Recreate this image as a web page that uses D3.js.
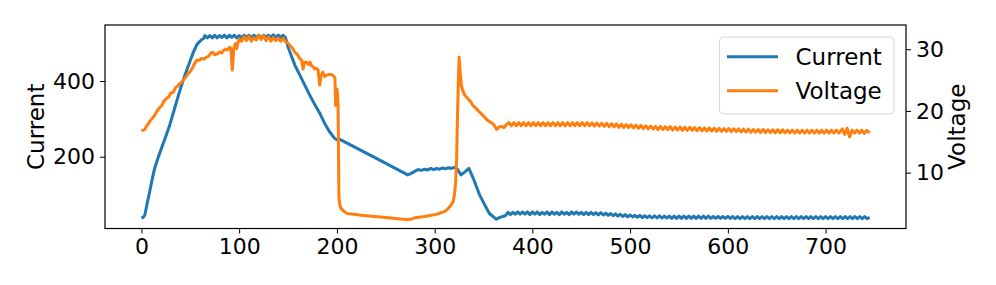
<!DOCTYPE html>
<html>
<head>
<meta charset="utf-8">
<script src="https://cdn.jsdelivr.net/npm/d3@7"></script>
<style>
  html, body { margin: 0; padding: 0; background: #fff; }
  #chart { width: 996px; height: 285px; }
</style>
</head>
<body>
<div id="chart"></div>
<script>
// Current trace, [sample, value]
const currentRamp = [
  [0,38],[2,40],[3.5,46],[6,78],[8.5,108],[11,140],[13.5,169],[17,197],[20.5,222],[25,254],
  [29,284],[34,328],[39,372],[44,412],[49.5,451],[53,475],[56.5,495],[59,503],[61.5,509],[64,513]
];
const currentPlateau = [
  [65,520],[67.5,514],[70,520],[72.5,514],[75,521],[77.5,514],[80,520],[82.5,515],[85,521],[87.5,514],
  [90,521],[92.5,515],[95,521],[97.5,514],[100,520],[102.5,514],[105,521],[107.5,515],[110,521],[112.5,514],
  [115,521],[117.5,515],[120,521],[122.5,514],[125,521],[127.5,515],[130,521],[132.5,515],[135,522],[137.5,515],
  [140,521],[142.5,515],[145,521],[147.5,514]
];
const currentMiddle = [
  [150,490],[152,476],[157,442],[162,416],[167,390],[172,364],[177.5,337],[182.5,315],[187.5,288],[192.5,266],
  [197.5,249],[200,245],[202,247],[237,200],[272.5,152],[276,156],[280,162],[283,166],[286,164],[290,167],
  [293,165],[296,169],[299,166],[302,169],[305,167],[308,170],[311,168],[314,171],[317,169],[320,172],
  [323,168],[327,152],[331,160],[335,169],[340,140],[346,99],[351,74],[356,50],[363,35],[368,41],[372.5,44]
];
const currentTail = [
  [375,53],[377.5,47],[380,53],[382.5,48],[385,54],[387.5,48],[390,54],[392.5,48],[395,54],[397.5,47],
  [400,54],[402.5,48],[405,54],[407.5,47],[410,53],[412.5,48],[415,54],[417.5,47],[420,54],[422.5,48],
  [425,53],[427.5,47],[430,54],[432.5,48],[435,53],[437.5,47],[440,54],[442.5,48],[445,54],[447.5,48],
  [450,53],[452.5,47],[455,53],[457.5,47],[460,53],[462.5,47],[465,52],[467.5,46],[470,52],[472.5,46],
  [475,51],[477.5,45],[480,50],[482.5,44],[485,49],[487.5,43],[490,48],[492.5,42],[495,47],[497.5,41],
  [500,46],[502.5,41],[505,45],[507.5,40],[510,45],[512.5,39],[515,44],[517.5,39],[520,44],[522.5,38],
  [525,44],[527.5,38],[530,44],[532.5,38],[535,43],[537.5,38],[540,43],[542.5,37],[545,43],[547.5,37],
  [550,43],[552.5,37],[555,43],[557.5,37],[560,43],[562.5,37],[565,43],[567.5,37],[570,43],[572.5,37],
  [575,43],[577.5,37],[580,43],[582.5,37],[585,42],[587.5,37],[590,42],[592.5,37],[595,42],[597.5,37],
  [600,42],[602.5,37],[605,42],[607.5,36],[610,42],[612.5,36],[615,42],[617.5,36],[620,42],[622.5,36],
  [625,42],[627.5,36],[630,42],[632.5,36],[635,42],[637.5,36],[640,42],[642.5,36],[645,42],[647.5,36],
  [650,42],[652.5,36],[655,42],[657.5,36],[660,42],[662.5,36],[665,42],[667.5,36],[670,42],[672.5,36],
  [675,42],[677.5,36],[680,42],[682.5,36],[685,42],[687.5,36],[690,42],[692.5,36],[695,42],[697.5,36],
  [700,42],[702.5,36],[705,42],[707.5,36],[710,42],[712.5,36],[715,42],[717.5,36],[720,42],[722.5,36],
  [725,42],[727.5,36],[730,42],[732.5,36],[735,42],[737.5,36],[740,42],[742.5,36],[745,40]
];

// Voltage trace, [sample, value]
const voltageRamp = [
  [0,16.8],[2,16.9],[3.5,17.0],[5,17.5],[7,17.9],[9,18.4],[12,19.0],[14,19.4],[16,20.0],[19,20.6],
  [21,20.9],[23,21.6],[25.5,22.0],[28,22.3],[30,22.9],[32.5,23.0],[35,23.8],[37,24.0],[39,24.4],[42,24.8],
  [44,25.2],[46,25.6],[47.5,26.0],[49.5,26.3],[52,26.9],[54,27.6],[56.5,28.2],[59,28.2],[61.5,28.5],[64,28.4],
  [66.5,28.7],[69,28.9],[71,29.4],[73,29.5],[75,29.1],[78,29.3],[80,29.6],[82,29.4],[84,29.8],[86,30.0],
  [88,29.9],[90,30.3],[91.5,30.2],[93,26.6],[94.5,30.0],[96,30.9],[97.5,30.1],[99,31.2],[100.5,31.7]
];
const voltagePlateau = [
  [102.5,31.3],[105,32.0],[107.5,31.4],[110,32.1],[112.5,31.3],[115,31.9],[117.5,31.5],[120,32.3],[122.5,31.6],[125,32.2],
  [127.5,31.4],[130,32.0],[132.5,31.3],[135,31.9],[137.5,31.4],[140,31.8],[142.5,31.3],[145,31.8],[147.5,31.2],[150,31.0]
];
const voltageMiddle = [
  [152,30.6],[154.5,30.2],[157,29.5],[159.5,29.2],[162,28.5],[164,28.2],[165.4,26.8],[167,27.9],[169,27.9],[171,27.5],
  [172.5,27.9],[174,27.3],[175.5,27.2],[177.3,26.8],[179,26.9],[180.7,26.7],[182.4,24.2],[184,25.8],[185.5,26.3],[187.5,25.6],
  [189.5,25.8],[192,25.9],[194.5,25.9],[197,25.6],[198,25.3],[198.7,20.9],[199.5,23.6],[200.3,23.5],[201.2,20.9],[202.1,5.8],
  [203.5,4.4],[206,3.9],[210,3.4],[215,3.3],[225,3.1],[235,2.95],[245,2.8],[255,2.65],[265,2.5],[272.5,2.42],
  [277,2.5],[280,2.7],[285,2.8],[290,2.9],[295,3.06],[300,3.2],[303,3.3],[306,3.5],[309,3.6],[312,3.9],
  [315,4.4],[317,4.8],[319,5.3],[320.5,6.8],[321.5,8.5],[322.5,12.3],[323.5,20],[324.3,25],[325,28.7],[326,26.5],
  [327.5,24],[329,23.2],[331,22.5],[333,22.2],[335,21.8],[337,21.5],[339,20.9],[342,20.5],[346,19.8],[350,19.2],
  [354,18.5],[358,18.1],[361,17.7],[363.5,17.0],[366,17.4],[368.5,17.5],[371,17.3],[373.5,17.8]
];
const voltageTail = [
  [376,18.1],[378.5,17.6],[381,18.1],[383.5,17.6],[386,18.1],[388.5,17.6],[391,18.1],[393.5,17.6],[396,18.1],[398.5,17.6],
  [401,18.1],[403.5,17.6],[406,18.1],[408.5,17.6],[411,18.1],[413.5,17.6],[416,18.1],[418.5,17.6],[421,18.1],[423.5,17.6],
  [426,18.1],[428.5,17.6],[431,18.1],[433.5,17.6],[436,18.1],[438.5,17.6],[441,18.1],[443.5,17.6],[446,18.1],[448.5,17.6],
  [451,18.1],[453.5,17.6],[456,18.1],[458.5,17.6],[461,18.05],[463.5,17.55],[466,18.05],[468.5,17.55],[471,18.0],[473.5,17.5],
  [476,18.0],[478.5,17.45],[481,17.95],[483.5,17.4],[486,17.9],[488.5,17.35],[491,17.85],[493.5,17.3],[496,17.8],[498.5,17.3],
  [501,17.75],[503.5,17.25],[506,17.7],[508.5,17.2],[511,17.65],[513.5,17.15],[516,17.6],[518.5,17.1],[521,17.55],[523.5,17.05],
  [526,17.5],[528.5,17.0],[531,17.5],[533.5,17.0],[536,17.45],[538.5,16.95],[541,17.45],[543.5,16.9],[546,17.4],[548.5,16.9],
  [551,17.4],[553.5,16.85],[556,17.35],[558.5,16.85],[561,17.35],[563.5,16.85],[566,17.3],[568.5,16.8],[571,17.3],[573.5,16.8],
  [576,17.25],[578.5,16.75],[581,17.25],[583.5,16.75],[586,17.2],[588.5,16.7],[591,17.2],[593.5,16.7],[596,17.15],[598.5,16.7],
  [601,17.15],[603.5,16.65],[606,17.1],[608.5,16.65],[611,17.1],[613.5,16.6],[616,17.05],[618.5,16.6],[621,17.05],[623.5,16.55],
  [626,17.0],[628.5,16.55],[631,17.0],[633.5,16.5],[636,17.0],[638.5,16.5],[641,16.95],[643.5,16.5],[646,16.95],[648.5,16.45],
  [651,16.95],[653.5,16.45],[656,16.95],[658.5,16.45],[661,16.9],[663.5,16.45],[666,16.9],[668.5,16.4],[671,16.9],[673.5,16.4],
  [676,16.9],[678.5,16.4],[681,16.9],[683.5,16.4],[686,16.9],[688.5,16.4],[691,16.9],[693.5,16.4],[696,16.9],[698.5,16.4],
  [701,16.9],[703.5,16.4],[706,16.9],[708.5,16.4],[711,16.9],[713.5,16.4],[717,17.1],[719.5,16.2],[722,17.2],[724.5,15.8],
  [727,16.9],[729.5,16.4],[732,16.9],[734.5,16.4],[737,16.9],[739.5,16.35],[742,16.85],[745,16.45]
];

const current = [...currentRamp, ...currentPlateau, ...currentMiddle, ...currentTail];
const voltage = [...voltageRamp, ...voltagePlateau, ...voltageMiddle, ...voltageTail];

const xTicks = [0, 100, 200, 300, 400, 500, 600, 700];
const currentTicks = [200, 400];
const voltageTicks = [10, 20, 30];
const seriesNames = ['Current', 'Voltage'];
const seriesColors = ['#1f77b4', '#ff7f0e'];

function renderChart(container) {
    const width = 996;
    const height = 285;
    const margin = { top: 25, right: 90, bottom: 56.5, left: 105 };
    const innerW = width - margin.left - margin.right;
    const innerH = height - margin.top - margin.bottom;
    const font = 'DejaVu Sans, sans-serif';

    // matplotlib style 5% padding around the data range
    const x = d3.scaleLinear().domain([-37.25, 782.25]).range([0, innerW]);
    const yLeft = d3.scaleLinear().domain([10.3, 548]).range([innerH, 0]);
    const yRight = d3.scaleLinear().domain([0.95, 33.93]).range([innerH, 0]);

    const svg = d3.create('svg')
        .attr('width', width)
        .attr('height', height)
        .attr('viewBox', [0, 0, width, height]);

    svg.append('rect').attr('width', width).attr('height', height).attr('fill', '#fff');

    const g = svg.append('g')
        .attr('transform', `translate(${margin.left},${margin.top})`);

    // Lines
    const lineLeft = d3.line().x(d => x(d[0])).y(d => yLeft(d[1]));
    const lineRight = d3.line().x(d => x(d[0])).y(d => yRight(d[1]));

    g.append('path')
        .datum(current)
        .attr('fill', 'none')
        .attr('stroke', seriesColors[0])
        .attr('stroke-width', 3)
        .attr('stroke-linejoin', 'round')
        .attr('d', lineLeft);

    g.append('path')
        .datum(voltage)
        .attr('fill', 'none')
        .attr('stroke', seriesColors[1])
        .attr('stroke-width', 3)
        .attr('stroke-linejoin', 'round')
        .attr('d', lineRight);

    // Axes
    const styleAxis = sel => {
        sel.select('.domain').remove();
        sel.selectAll('.tick line').attr('stroke', '#000').attr('stroke-width', 1);
        sel.selectAll('.tick text')
            .attr('fill', '#000')
            .style('font-family', font)
            .style('font-size', '22px');
    };

    g.append('g')
        .attr('transform', `translate(0,${innerH})`)
        .call(d3.axisBottom(x).tickValues(xTicks).tickSize(5).tickPadding(5).tickFormat(d3.format('d')))
        .call(styleAxis);

    g.append('g')
        .call(d3.axisLeft(yLeft).tickValues(currentTicks).tickSize(5).tickPadding(5).tickFormat(d3.format('d')))
        .call(styleAxis);

    g.append('g')
        .attr('transform', `translate(${innerW},0)`)
        .call(d3.axisRight(yRight).tickValues(voltageTicks).tickSize(5).tickPadding(5).tickFormat(d3.format('d')))
        .call(styleAxis);

    // Frame
    g.append('rect')
        .attr('width', innerW)
        .attr('height', innerH)
        .attr('fill', 'none')
        .attr('stroke', '#000')
        .attr('stroke-width', 1.2);

    // Axis labels
    svg.append('text')
        .attr('transform', `translate(36,${margin.top + innerH / 2}) rotate(-90)`)
        .attr('text-anchor', 'middle')
        .attr('dominant-baseline', 'central')
        .style('font-family', font)
        .style('font-size', '23px')
        .text('Current');

    svg.append('text')
        .attr('transform', `translate(957,${margin.top + innerH / 2}) rotate(-90)`)
        .attr('text-anchor', 'middle')
        .attr('dominant-baseline', 'central')
        .style('font-family', font)
        .style('font-size', '23px')
        .text('Voltage');

    // Legend
    const legend = svg.append('g').attr('transform', 'translate(719.5,37)');
    legend.append('rect')
        .attr('width', 174.5)
        .attr('height', 77)
        .attr('rx', 4)
        .attr('fill', 'rgba(255,255,255,0.8)')
        .attr('stroke', '#d6d6d6')
        .attr('stroke-width', 1);

    seriesNames.forEach((name, i) => {
        const row = legend.append('g').attr('transform', `translate(0,${19.7 + i * 34})`);
        row.append('line')
            .attr('x1', 7.5).attr('x2', 58.5)
            .attr('stroke', seriesColors[i])
            .attr('stroke-width', 3);
        row.append('text')
            .attr('x', 76)
            .attr('y', 8.3)
            .style('font-family', font)
            .style('font-size', '23px')
            .attr('fill', '#000')
            .text(name);
    });

    container.appendChild(svg.node());
}

renderChart(document.getElementById('chart'));
</script>
</body>
</html>
